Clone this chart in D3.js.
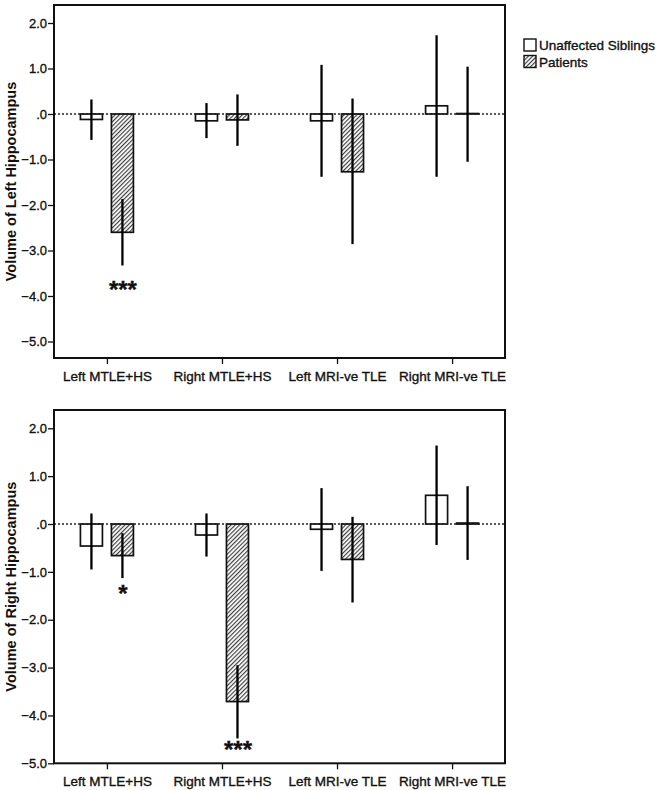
<!DOCTYPE html>
<html>
<head>
<meta charset="utf-8">
<script src="https://cdn.jsdelivr.net/npm/d3@7"></script>
<style>
  body { margin: 0; background: #fff; }
  svg { font-family: "Liberation Sans", Arial, sans-serif; }
  .txt { stroke: #111; stroke-width: 0.35px; fill: #111; }
</style>
</head>
<body>
<div class="chart-area"></div>
<script>
// categories and series
var categories = ["Left MTLE+HS", "Right MTLE+HS", "Left MRI-ve TLE", "Right MRI-ve TLE"];
var series = ["Unaffected Siblings", "Patients"];
var yTicks = [2, 1, 0, -1, -2, -3, -4, -5];

// left hippocampus panel: mean, upper, lower (per category)
var leftSibMean  = [-0.12, -0.15, -0.15, 0.18];
var leftSibHi    = [0.32, 0.24, 1.08, 1.73];
var leftSibLo    = [-0.57, -0.53, -1.38, -1.38];
var leftPatMean  = [-2.60, -0.13, -1.27, 0.01];
var leftPatHi    = [-1.87, 0.43, 0.34, 1.04];
var leftPatLo    = [-3.33, -0.70, -2.86, -1.05];
var leftStars    = ["***", "", "", ""];
var leftStarAt   = [-3.80, 0, 0, 0];

// right hippocampus panel
var rightSibMean = [-0.46, -0.23, -0.11, 0.60];
var rightSibHi   = [0.22, 0.22, 0.75, 1.64];
var rightSibLo   = [-0.95, -0.68, -0.98, -0.44];
var rightPatMean = [-0.66, -3.71, -0.74, 0.02];
var rightPatHi   = [-0.19, -2.95, 0.15, 0.79];
var rightPatLo   = [-1.13, -4.48, -1.64, -0.75];
var rightStars   = ["*", "***", "", ""];
var rightStarAt  = [-1.41, -4.65, 0, 0];

function rows(sm, sh, sl, pm, ph, pl) {
    var out = [];
    categories.forEach(function(c, i) {
        out.push({cat: c, s: series[0], mean: sm[i], hi: sh[i], lo: sl[i]});
        out.push({cat: c, s: series[1], mean: pm[i], hi: ph[i], lo: pl[i]});
    });
    return out;
}

var W = 665, H = 790;
var svg = d3.select(".chart-area").append("svg")
    .attr("width", W)
    .attr("height", H);

var defs = svg.append("defs");
var pat = defs.append("pattern")
    .attr("id", "hatch")
    .attr("patternUnits", "userSpaceOnUse")
    .attr("width", 3)
    .attr("height", 3)
    .attr("patternTransform", "rotate(45)");
pat.append("rect").attr("width", 3).attr("height", 3).attr("fill", "#fff");
pat.append("line")
    .attr("x1", 0.6).attr("y1", 0).attr("x2", 0.6).attr("y2", 3)
    .attr("stroke", "#333").attr("stroke-width", 1.1);

var plotLeft = 54, plotRight = 505;

var x = d3.scalePoint()
    .domain(categories)
    .range([plotLeft, plotRight])
    .padding(0.46);

var xs = d3.scaleBand()
    .domain(series)
    .range([-26.5, 26.5])
    .paddingInner(0.29);

var fmt = function(d) { return d === 0 ? ".0" : d3.format(".1f")(d); };

function drawPanel(cfg) {
    var y = d3.scaleLinear().domain([-5, 2]).range([cfg.yMinus5, cfg.yPlus2]);
    var g = svg.append("g");
    var data = cfg.data;

    // bars
    g.selectAll("rect.bar")
        .data(data)
        .enter().append("rect")
        .attr("class", "bar")
        .attr("x", function(d) { return x(d.cat) + xs(d.s); })
        .attr("width", xs.bandwidth())
        .attr("y", function(d) { return Math.min(y(d.mean), y(0)); })
        .attr("height", function(d) { return Math.abs(y(d.mean) - y(0)); })
        .attr("fill", function(d) { return d.s === series[0] ? "#fff" : "url(#hatch)"; })
        .attr("stroke", "#111")
        .attr("stroke-width", 1.7);

    // zero reference line
    g.append("line")
        .attr("x1", plotLeft).attr("x2", plotRight)
        .attr("y1", y(0)).attr("y2", y(0))
        .attr("stroke", "#222")
        .attr("stroke-width", 1.5)
        .attr("stroke-dasharray", "2,2");

    // error bars
    g.selectAll("line.err")
        .data(data)
        .enter().append("line")
        .attr("class", "err")
        .attr("x1", function(d) { return x(d.cat) + xs(d.s) + xs.bandwidth() / 2; })
        .attr("x2", function(d) { return x(d.cat) + xs(d.s) + xs.bandwidth() / 2; })
        .attr("y1", function(d) { return y(d.hi); })
        .attr("y2", function(d) { return y(d.lo); })
        .attr("stroke", "#000")
        .attr("stroke-width", 2.3);

    // significance stars
    g.selectAll("text.star")
        .data(cfg.stars.map(function(s, i) { return {cat: categories[i], txt: s, v: cfg.starAt[i]}; })
              .filter(function(d) { return d.txt; }))
        .enter().append("text")
        .attr("class", "star txt")
        .attr("x", function(d) { return x(d.cat) + xs(series[1]) + xs.bandwidth() / 2 + 0.5; })
        .attr("y", function(d) { return y(d.v) + 11; })
        .attr("text-anchor", "middle")
        .style("font-size", "24px")
        .style("font-weight", "bold")
        .text(function(d) { return d.txt; });

    // frame
    g.append("rect")
        .attr("x", plotLeft).attr("y", cfg.top)
        .attr("width", plotRight - plotLeft)
        .attr("height", cfg.bottom - cfg.top)
        .attr("fill", "none")
        .attr("stroke", "#111")
        .attr("stroke-width", 2);

    // y axis
    var ya = g.append("g")
        .attr("transform", "translate(" + plotLeft + ",0)")
        .call(d3.axisLeft(y).tickValues(yTicks).tickFormat(fmt).tickSize(6).tickPadding(1));
    ya.select(".domain").remove();
    ya.selectAll("line").attr("stroke", "#111").attr("stroke-width", 1.3);
    ya.selectAll("text")
        .attr("class", "txt")
        .style("font-size", "13px")
        .style("font-family", "'Liberation Sans', Arial, sans-serif");

    // x axis
    var xa = g.append("g")
        .attr("transform", "translate(0," + cfg.bottom + ")")
        .call(d3.axisBottom(x).tickSize(6).tickPadding(7));
    xa.select(".domain").remove();
    xa.selectAll("line").attr("stroke", "#111").attr("stroke-width", 1.3);
    xa.selectAll("text")
        .attr("class", "txt")
        .style("font-size", "13.5px")
        .style("font-family", "'Liberation Sans', Arial, sans-serif");

    // y axis title
    g.append("text")
        .attr("transform", "translate(16," + ((cfg.top + cfg.bottom) / 2) + ") rotate(-90)")
        .attr("text-anchor", "middle")
        .style("font-size", "14.5px")
        .style("font-weight", "bold")
        .attr("fill", "#111")
        .text(cfg.title);
}

drawPanel({
    data: rows(leftSibMean, leftSibHi, leftSibLo, leftPatMean, leftPatHi, leftPatLo),
    stars: leftStars, starAt: leftStarAt,
    top: 5, bottom: 358, yPlus2: 23, yMinus5: 341.5,
    title: "Volume of Left Hippocampus"
});

drawPanel({
    data: rows(rightSibMean, rightSibHi, rightSibLo, rightPatMean, rightPatHi, rightPatLo),
    stars: rightStars, starAt: rightStarAt,
    top: 410, bottom: 763.3, yPlus2: 428.3, yMinus5: 763.3,
    title: "Volume of Right Hippocampus"
});

// legend
var legend = svg.append("g").attr("transform", "translate(524,39)");
series.forEach(function(s, i) {
    var row = legend.append("g").attr("transform", "translate(0," + (i * 16.5) + ")");
    row.append("rect")
        .attr("width", 12).attr("height", 12)
        .attr("fill", i === 0 ? "#fff" : "url(#hatch)")
        .attr("stroke", "#111").attr("stroke-width", 1.4);
    row.append("text")
        .attr("class", "txt")
        .attr("x", 15).attr("y", 11)
        .style("font-size", "13.5px")
        .text(s);
});
</script>
</body>
</html>
